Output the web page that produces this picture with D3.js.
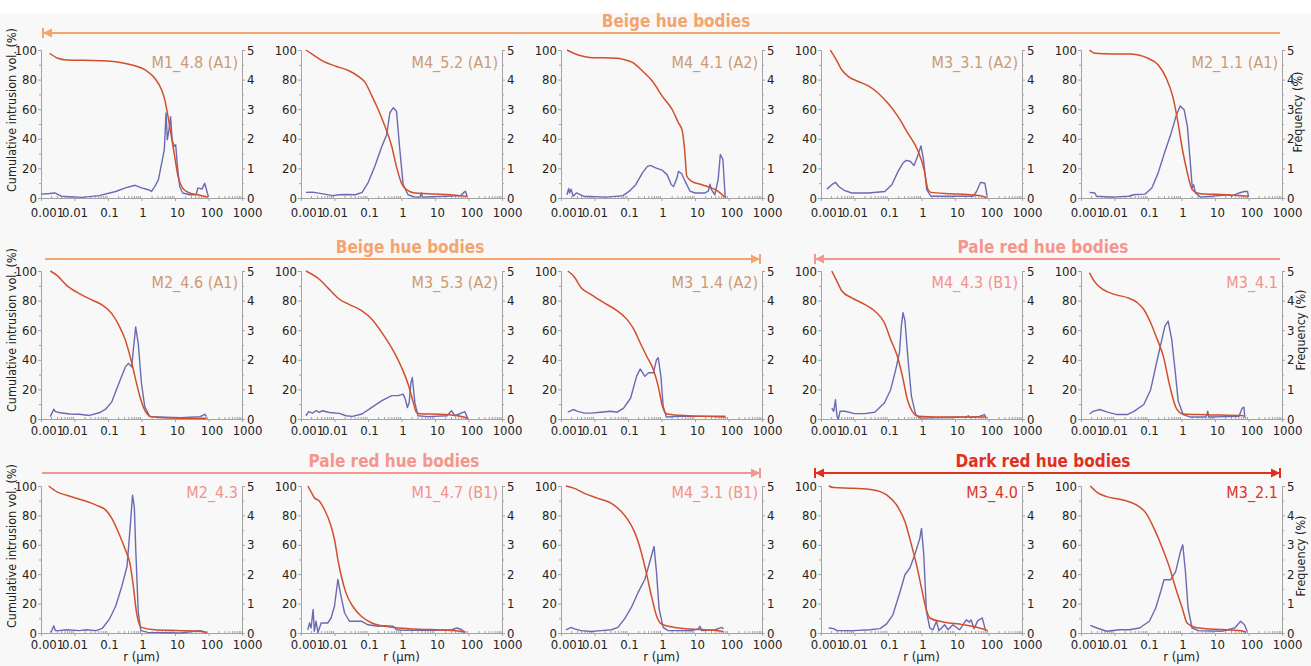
<!DOCTYPE html>
<html>
<head>
<meta charset="utf-8">
<script src="https://cdnjs.cloudflare.com/ajax/libs/d3/7.8.5/d3.min.js"></script>
<style>
  body { margin: 0; background: #f8f8f8; }
  svg { display: block; font-family: "DejaVu Sans Condensed", "DejaVu Sans", sans-serif; }
  .tick text { font-family: "Liberation Sans Narrow", "DejaVu Sans Condensed", sans-serif; }
</style>
</head>
<body>
<svg id="chart" width="1311" height="666"></svg>
<script>
// Axis ticks
const xTicks = [0.001, 0.01, 0.1, 1, 10, 100, 1000];
const xTickLabels = ["0.001", "0.01", "0.1", "1", "10", "100", "1000"];
const cumTicks = [0, 20, 40, 60, 80, 100];
const freqTicks = [0, 1, 2, 3, 4, 5];

// Sample names, one per panel (row by row)
const sampleNames = [
  "M1_4.8 (A1)", "M4_5.2 (A1)", "M4_4.1 (A2)", "M3_3.1 (A2)", "M2_1.1 (A1)",
  "M2_4.6 (A1)", "M3_5.3 (A2)", "M3_1.4 (A2)", "M4_4.3 (B1)", "M3_4.1",
  "M2_4.3", "M1_4.7 (B1)", "M4_3.1 (B1)", "M3_4.0", "M3_2.1"
];
const sampleHue = [
  "beige", "beige", "beige", "beige", "beige",
  "beige", "beige", "beige", "pale", "pale",
  "pale", "pale", "pale", "dark", "dark"
];
const groupTitles = ["Beige hue bodies", "Pale red hue bodies", "Dark red hue bodies"];

// Cumulative intrusion vol. (%) vs r (um), and frequency (%) vs r (um)
const cumM1_48 = [[0.0018,97.8],[0.0032,94.4],[0.0057,93.3],[0.055,92.8],[0.17,92.1],[0.52,89.9],[1.3,86.5],[2.5,80.9],[4.0,73],[5.0,66],[6.2,55],[7.8,41.6],[9.8,28],[12.3,14.6],[17,6.7],[27,3.4],[48,2.2],[94,0.7]];
const frqM1_48 = [[0.001,0.13],[0.0018,0.15],[0.0026,0.17],[0.004,0.06],[0.017,0.02],[0.054,0.08],[0.17,0.22],[0.33,0.34],[0.65,0.43],[1.0,0.34],[1.6,0.28],[2.0,0.22],[2.5,0.39],[3.2,0.62],[4.0,1.18],[4.8,1.63],[5.4,2.87],[5.9,1.97],[6.6,2.3],[7.4,2.75],[8.2,1.97],[9.4,1.74],[10.5,1.8],[11.8,1.07],[13.8,0.39],[17,0.17],[27,0.11],[43,0.11],[48,0.34],[64,0.3],[77,0.5],[90,0.22],[100,0.03]];

const cumM4_52 = [[0.0014,100],[0.0022,97],[0.0045,92.5],[0.011,89],[0.027,86],[0.053,82],[0.083,78],[0.13,69],[0.2,60],[0.32,48.5],[0.51,35],[0.71,21],[1.0,10],[1.4,5.6],[2.5,3.4],[6,2.9],[23,2.3],[91,1.1]];
const frqM4_52 = [[0.0014,0.19],[0.0022,0.2],[0.0045,0.14],[0.0088,0.08],[0.014,0.11],[0.022,0.12],[0.042,0.11],[0.067,0.19],[0.1,0.51],[0.16,1.07],[0.26,1.75],[0.36,2.14],[0.45,2.88],[0.57,3.05],[0.71,2.93],[0.89,1.64],[1.12,0.45],[1.57,0.11],[2.5,0.03],[3.6,0.03],[3.9,0.17],[4.2,0.03],[23,0.06],[58,0.08],[73,0.19],[81,0.23],[91,0.06]];

const cumM4_41 = [[0.0015,100],[0.0023,98],[0.0042,96],[0.0073,95],[0.044,94.4],[0.07,93.7],[0.14,91.4],[0.27,85.8],[0.53,79],[1.05,68.8],[2.05,60],[3.2,50.8],[4.1,46],[4.9,32.7],[5.7,14.7],[8,11.3],[16,9],[31,6.8],[49,4.5],[76,0.7]];
const frqM4_41 = [[0.0015,0.11],[0.0017,0.32],[0.0018,0.17],[0.002,0.3],[0.0023,0.06],[0.0029,0.17],[0.0047,0.06],[0.023,0.03],[0.07,0.08],[0.11,0.23],[0.17,0.45],[0.27,0.85],[0.38,1.07],[0.47,1.1],[0.67,1.02],[1.05,0.94],[1.47,0.79],[1.97,0.45],[2.3,0.39],[2.9,0.68],[3.2,0.9],[4.0,0.82],[5.1,0.56],[7.1,0.23],[10,0.17],[20,0.17],[25,0.23],[28,0.47],[31,0.28],[39,0.11],[49,0.62],[57,1.47],[68,1.3],[80,0]];

const cumM3_31 = [[0.0019,100],[0.0027,94.4],[0.0042,86.5],[0.0066,82],[0.013,78.7],[0.026,75.7],[0.051,70.8],[0.1,64],[0.2,55],[0.39,43.8],[0.76,32.6],[1.2,19],[1.57,5.6],[1.9,3.8],[7.3,2.9],[28,2.2],[70,1.1],[87,0]];
const frqM3_31 = [[0.0015,0.3],[0.0021,0.45],[0.0027,0.53],[0.0034,0.39],[0.0049,0.26],[0.0084,0.17],[0.026,0.17],[0.08,0.22],[0.13,0.45],[0.2,0.9],[0.28,1.18],[0.35,1.27],[0.46,1.24],[0.6,1.1],[0.76,1.4],[0.96,1.76],[1.15,1.29],[1.43,0.28],[1.9,0.06],[11.4,0.06],[35,0.06],[44,0.22],[58,0.53],[78,0.5],[91,0.06]];

const cumM2_11 = [[0.0018,100],[0.0026,97.8],[0.0087,97.3],[0.027,97.3],[0.052,96.6],[0.1,94.4],[0.2,90],[0.35,81],[0.55,68.5],[0.76,52.8],[1.07,32.6],[1.5,16.9],[2.1,5.6],[3.7,2.9],[22,2.2],[100,1.1]];
const frqM2_11 = [[0.0018,0.19],[0.0026,0.17],[0.0029,0.06],[0.0087,0.03],[0.027,0.06],[0.037,0.11],[0.081,0.13],[0.13,0.34],[0.2,0.84],[0.31,1.52],[0.49,2.19],[0.68,2.75],[0.91,3.11],[1.2,2.98],[1.5,2.42],[1.87,1.07],[2.1,0.34],[2.3,0.45],[2.6,0.17],[3.7,0.03],[27,0.11],[31,0.06],[53,0.17],[75,0.22],[94,0.22],[100,0.03]];

const cumM2_46 = [[0.0019,100],[0.003,97],[0.0058,90.3],[0.014,84.7],[0.035,80.2],[0.068,76.9],[0.13,71.2],[0.21,63.4],[0.33,53.3],[0.46,42],[0.64,28.5],[0.9,15],[1.25,6],[1.95,1.6],[4.8,0.9],[87,0.4]];
const frqM2_46 = [[0.0019,0.08],[0.0024,0.33],[0.0027,0.25],[0.0037,0.21],[0.0073,0.17],[0.014,0.16],[0.028,0.12],[0.055,0.21],[0.085,0.33],[0.13,0.58],[0.21,1.2],[0.33,1.76],[0.41,1.88],[0.51,1.76],[0.57,2.33],[0.67,3.11],[0.8,2.55],[1.0,1.2],[1.25,0.42],[1.75,0.08],[15,0.04],[56,0.08],[78,0.16],[87,0.08]];

const cumM3_53 = [[0.0014,100],[0.0035,94.4],[0.007,87.6],[0.014,80.9],[0.027,77.5],[0.066,73],[0.13,67.4],[0.26,58.4],[0.64,44],[1.0,35],[1.57,23.6],[2.2,12],[2.8,4.5],[3.5,3.6],[19,3.1],[58,1.8],[100,0.4]];
const frqM3_53 = [[0.0014,0.11],[0.0017,0.25],[0.0022,0.2],[0.0028,0.28],[0.0035,0.22],[0.0044,0.28],[0.007,0.22],[0.014,0.19],[0.022,0.11],[0.034,0.09],[0.066,0.17],[0.13,0.39],[0.26,0.62],[0.51,0.79],[0.8,0.79],[1.12,0.84],[1.3,0.67],[1.5,0.39],[1.7,0.56],[1.9,1.22],[2.1,1.4],[2.3,0.96],[2.5,0.56],[3.1,0.11],[6.1,0.08],[23,0.11],[31,0.28],[39,0.11],[78,0.25],[95,0]];

const cumM3_14 = [[0.0016,100],[0.0025,96],[0.004,88.7],[0.0078,84.2],[0.019,78.6],[0.048,73],[0.093,67.3],[0.15,60.5],[0.23,51.5],[0.36,42.4],[0.57,33.4],[0.8,22],[1.07,8.6],[1.4,3.6],[3.5,2.5],[21,1.8],[81,1.8]];
const frqM3_14 = [[0.0016,0.23],[0.0023,0.32],[0.0032,0.26],[0.005,0.2],[0.0078,0.2],[0.015,0.23],[0.03,0.26],[0.048,0.23],[0.074,0.37],[0.12,0.71],[0.18,1.44],[0.23,1.69],[0.32,1.44],[0.41,1.56],[0.57,1.56],[0.71,2.0],[0.8,2.07],[0.96,1.44],[1.12,0.43],[1.4,0.07],[3.5,0.09],[21,0.09],[81,0.07]];

const cumM4_43 = [[0.0021,100],[0.003,93],[0.0042,86.5],[0.0081,82],[0.02,77.4],[0.04,73],[0.078,65],[0.12,53.7],[0.19,42.4],[0.27,28.9],[0.38,13],[0.53,5.2],[0.83,1.8],[2.9,1.4],[85,1.4]];
const frqM4_43 = [[0.0021,0.37],[0.0024,0.26],[0.0027,0.65],[0.003,0.09],[0.0033,0],[0.0037,0.26],[0.0052,0.26],[0.01,0.18],[0.02,0.18],[0.04,0.23],[0.078,0.54],[0.12,0.99],[0.17,1.67],[0.22,2.24],[0.25,3.14],[0.28,3.59],[0.32,3.33],[0.4,1.97],[0.5,0.77],[0.67,0.15],[0.93,0.03],[22,0.07],[25,0.11],[28,0.05],[54,0.09],[76,0.15],[85,0.03]];

const cumM3_41 = [[0.0018,98.8],[0.0025,93],[0.0045,87.6],[0.01,84.2],[0.024,82],[0.048,78.6],[0.075,74],[0.12,65],[0.18,55],[0.29,42],[0.45,22],[0.71,7],[1.12,3.4],[5.4,2.9],[65,2.3],[73,1.8]];
const frqM3_41 = [[0.0018,0.17],[0.0023,0.26],[0.0036,0.32],[0.0062,0.23],[0.012,0.15],[0.024,0.15],[0.038,0.26],[0.075,0.49],[0.12,0.99],[0.18,1.9],[0.26,2.69],[0.32,3.14],[0.4,3.31],[0.51,2.69],[0.64,1.67],[0.8,0.6],[1.12,0.15],[1.76,0.07],[5.4,0.07],[6.1,0.26],[6.5,0.07],[52,0.09],[65,0.37],[73,0.4],[78,0.05]];

const cumM2_43 = [[0.0017,100],[0.003,96],[0.0058,93.7],[0.018,90.3],[0.044,87],[0.086,83.6],[0.13,78],[0.21,67.9],[0.33,56.6],[0.46,46.5],[0.57,31.9],[0.71,13.9],[1.0,3.8],[2.4,2.2],[15,1.6],[70,0.9],[87,0]];
const frqM2_43 = [[0.0019,0.02],[0.0021,0.08],[0.0024,0.25],[0.0027,0.08],[0.0034,0.08],[0.0058,0.11],[0.014,0.08],[0.022,0.11],[0.044,0.08],[0.068,0.16],[0.11,0.47],[0.17,0.92],[0.26,1.6],[0.37,2.27],[0.46,3.62],[0.54,4.69],[0.61,4.29],[0.68,2.72],[0.8,0.7],[0.96,0.08],[1.56,0.02],[15,0],[56,0.08],[78,0.04],[87,0]];

const cumM1_47 = [[0.0016,100],[0.0022,94.3],[0.0025,92],[0.0035,89.8],[0.005,84],[0.0079,72.7],[0.01,63.6],[0.0126,50],[0.016,38.6],[0.022,27.3],[0.035,18.2],[0.063,11.4],[0.13,6.8],[0.32,4.5],[0.79,3.4],[7.9,2.3],[63,1.1],[79,0.5]];
const frqM1_47 = [[0.0016,0.11],[0.0018,0.34],[0.002,0.17],[0.0021,0.4],[0.0023,0.8],[0.0025,0.06],[0.0028,0.4],[0.0032,0.02],[0.004,0.34],[0.0063,0.34],[0.0079,0.51],[0.01,0.91],[0.0126,1.82],[0.015,1.36],[0.02,0.68],[0.028,0.4],[0.063,0.4],[0.1,0.28],[0.2,0.23],[0.32,0.25],[0.56,0.23],[0.71,0.11],[1.26,0.09],[7.9,0.09],[32,0.11],[45,0.17],[63,0.11],[79,0.02]];

const cumM4_31 = [[0.0014,100],[0.0025,98.4],[0.005,95],[0.0126,91.6],[0.032,88.2],[0.063,82.6],[0.1,76.9],[0.16,68.3],[0.25,54.8],[0.35,41.2],[0.5,25.3],[0.71,11.8],[1.0,6.1],[2.5,3.8],[16,2.3],[50,1.6],[71,0.9]];
const frqM4_31 = [[0.0014,0.11],[0.002,0.19],[0.0025,0.14],[0.004,0.08],[0.0079,0.05],[0.016,0.08],[0.032,0.11],[0.05,0.19],[0.079,0.48],[0.126,0.87],[0.2,1.38],[0.32,1.83],[0.5,2.62],[0.6,2.94],[0.71,2.06],[0.85,0.81],[1.12,0.19],[1.58,0.08],[7.9,0.08],[12.6,0.14],[14,0.23],[16,0.08],[40,0.11],[63,0.19],[71,0.14]];

const cumM3_40 = [[0.0017,100],[0.0024,98.9],[0.0093,98.4],[0.037,97.3],[0.091,93.9],[0.18,87.1],[0.32,75.8],[0.5,60],[0.71,46.4],[1.0,30.5],[1.35,17],[1.77,10.2],[4.4,7.5],[17,5.7],[54,3.4],[95,1.6]];
const frqM3_40 = [[0.0017,0.17],[0.0024,0.15],[0.003,0.08],[0.0093,0.08],[0.029,0.11],[0.058,0.15],[0.091,0.31],[0.14,0.62],[0.23,1.41],[0.32,1.98],[0.45,2.21],[0.63,2.66],[0.89,3.22],[1.0,3.56],[1.17,2.66],[1.4,0.74],[1.77,0.17],[2.2,0.11],[2.8,0.4],[3.3,0.08],[4.9,0.28],[6.2,0.11],[8.7,0.28],[13.7,0.11],[21.7,0.45],[27,0.37],[30,0.45],[37,0.15],[48,0.42],[65,0.51],[82,0.08]];

const cumM3_21 = [[0.0019,100],[0.003,95.7],[0.0058,92.8],[0.018,90.5],[0.045,87.1],[0.088,81.4],[0.15,71.3],[0.27,57.7],[0.43,45.2],[0.67,30.5],[1.05,17],[1.47,6.8],[2.6,3.8],[16,2.3],[61,1.6],[85,0.5]];
const frqM3_21 = [[0.0019,0.26],[0.003,0.17],[0.0058,0.06],[0.014,0.11],[0.028,0.11],[0.056,0.17],[0.11,0.4],[0.17,0.85],[0.24,1.41],[0.3,1.81],[0.47,1.81],[0.67,2.09],[0.93,2.77],[1.09,3.0],[1.31,2.09],[1.57,0.85],[2.06,0.17],[3.2,0.08],[16,0.06],[39,0.17],[58,0.4],[76,0.28],[91,0.06]];

const cumSeries = [cumM1_48, cumM4_52, cumM4_41, cumM3_31, cumM2_11,
                   cumM2_46, cumM3_53, cumM3_14, cumM4_43, cumM3_41,
                   cumM2_43, cumM1_47, cumM4_31, cumM3_40, cumM3_21];
const frqSeries = [frqM1_48, frqM4_52, frqM4_41, frqM3_31, frqM2_11,
                   frqM2_46, frqM3_53, frqM3_14, frqM4_43, frqM3_41,
                   frqM2_43, frqM1_47, frqM4_31, frqM3_40, frqM3_21];

//==========================================
// Layout and styles
//==========================================
const W = 1311, H = 666;
const colLeft = [41, 301, 561, 821, 1081];
const plotW = 201;
const rowTop = [50, 271, 486];
const rowBottom = [198, 419, 633];
const xLabelPad = [7, 4, 4];
const xLabelShift = [6, 0, 1, 1, 2, 3, 5];
const nameOffset = [18, 17, 12];
const cumLabelY = [110, 330, 546];
const freqLabelY = [112, 330, 556];
const freqLabelX = [1298, 1301, 1301];

const axisColor = "#a3a3a3";
const textColor = "#222";
const cumColor = "#d24f2c";
const frqColor = "#6a6ab3";
const hueLine = { beige: "#f4a46e", pale: "#f3968e", dark: "#e0311f" };
const hueName = { beige: "#cc9a72", pale: "#f2928a", dark: "#e0311f" };

// header bars: row line with title and optional end caps
const headers = [
  { title: groupTitles[0], hue: "beige", y: 33,  x1: 43,  x2: 1280, tx: 676,  capL: true,  capR: false },
  { title: groupTitles[0], hue: "beige", y: 259, x1: 45,  x2: 760,  tx: 410,  capL: false, capR: true },
  { title: groupTitles[1], hue: "pale",  y: 259, x1: 815, x2: 1280, tx: 1043, capL: true,  capR: false },
  { title: groupTitles[1], hue: "pale",  y: 473, x1: 42,  x2: 760,  tx: 394,  capL: false, capR: true },
  { title: groupTitles[2], hue: "dark",  y: 473, x1: 815, x2: 1280, tx: 1043, capL: true,  capR: true }
];

const svg = d3.select("#chart");
svg.append("rect").attr("width", W).attr("height", H).attr("fill", "#f8f8f8");
svg.append("rect").attr("width", W).attr("height", 13).attr("fill", "#ffffff");

//==========================================
// Header bars
//==========================================
function drawCap(g, x, y, dir, color) {
  // dir -1: arrow points left, +1: arrow points right
  g.append("line")
    .attr("x1", x).attr("x2", x).attr("y1", y - 5).attr("y2", y + 5)
    .attr("stroke", color).attr("stroke-width", 2);
  g.append("path")
    .attr("d", `M${x},${y}L${x - dir * 9},${y - 4.5}L${x - dir * 9},${y + 4.5}Z`)
    .attr("fill", color);
}

headers.forEach(h => {
  const g = svg.append("g");
  const color = hueLine[h.hue];
  g.append("line")
    .attr("x1", h.x1).attr("x2", h.x2).attr("y1", h.y).attr("y2", h.y)
    .attr("stroke", color).attr("stroke-width", 2.2);
  if (h.capL) drawCap(g, h.x1, h.y, -1, color);
  if (h.capR) drawCap(g, h.x2, h.y, 1, color);
  g.append("text")
    .attr("x", h.tx).attr("y", h.y - 6)
    .attr("text-anchor", "middle")
    .attr("font-size", 17).attr("font-weight", "bold")
    .attr("fill", color)
    .text(h.title);
});

//==========================================
// Panels
//==========================================
function styleAxis(g) {
  g.attr("font-family", null).attr("font-size", null);
  g.select(".domain").attr("stroke", axisColor);
  g.selectAll(".tick line").attr("stroke", axisColor);
  g.selectAll(".tick text").attr("fill", textColor).attr("font-size", 13);
}

const minorX = [];
for (let e = -3; e < 3; e++) {
  for (let m = 2; m <= 9; m++) minorX.push(m * Math.pow(10, e));
}
const cumMinor = [10, 30, 50, 70, 90];
const freqMinor = [0.5, 1.5, 2.5, 3.5, 4.5];

sampleNames.forEach((name, i) => {
  const row = Math.floor(i / 5), col = i % 5;
  const L = colLeft[col], R = L + plotW, T = rowTop[row], B = rowBottom[row];

  const x = d3.scaleLog().domain([0.001, 1000]).range([L, R]);
  const yCum = d3.scaleLinear().domain([0, 100]).range([B, T]);
  const yFrq = d3.scaleLinear().domain([0, 5]).range([B, T]);

  const g = svg.append("g");

  // bottom axis
  g.append("g").attr("transform", `translate(0,${B})`)
    .call(d3.axisBottom(x).tickValues(minorX).tickSize(-2).tickFormat("").tickSizeOuter(0))
    .call(styleAxis);
  g.append("g").attr("transform", `translate(0,${B})`)
    .call(d3.axisBottom(x).tickValues(xTicks).tickSize(3).tickPadding(xLabelPad[row])
      .tickFormat((d, k) => xTickLabels[k]).tickSizeOuter(0))
    .call(styleAxis)
    .call(a => a.selectAll(".tick text").attr("dx", (d, k) => xLabelShift[k]));

  // left axis
  g.append("g").attr("transform", `translate(${L},0)`)
    .call(d3.axisLeft(yCum).tickValues(cumMinor).tickSize(2).tickFormat("").tickSizeOuter(0))
    .call(styleAxis);
  g.append("g").attr("transform", `translate(${L},0)`)
    .call(d3.axisLeft(yCum).tickValues(cumTicks).tickSize(3).tickPadding(1).tickSizeOuter(0))
    .call(styleAxis);

  // right axis
  g.append("g").attr("transform", `translate(${R},0)`)
    .call(d3.axisRight(yFrq).tickValues(freqMinor).tickSize(2).tickFormat("").tickSizeOuter(0))
    .call(styleAxis);
  g.append("g").attr("transform", `translate(${R},0)`)
    .call(d3.axisRight(yFrq).tickValues(freqTicks).tickSize(3).tickPadding(2)
      .tickFormat(d3.format("d")).tickSizeOuter(0))
    .call(styleAxis);

  // curves
  const frqLine = d3.line().x(d => x(d[0])).y(d => yFrq(d[1]));
  const cumLine = d3.line().x(d => x(d[0])).y(d => yCum(d[1])).curve(d3.curveMonotoneX);

  g.append("path").datum(frqSeries[i])
    .attr("d", frqLine)
    .attr("fill", "none").attr("stroke", frqColor).attr("stroke-width", 1.4)
    .attr("stroke-linejoin", "round");
  g.append("path").datum(cumSeries[i])
    .attr("d", cumLine)
    .attr("fill", "none").attr("stroke", cumColor).attr("stroke-width", 1.5)
    .attr("stroke-linejoin", "round");

  // sample name
  g.append("text")
    .attr("x", R - 4).attr("y", T + nameOffset[row])
    .attr("text-anchor", "end")
    .attr("font-size", 16)
    .attr("fill", hueName[sampleHue[i]])
    .text(name);

  // axis titles
  if (col === 0) {
    g.append("text")
      .attr("transform", `translate(12,${cumLabelY[row]}) rotate(-90)`)
      .attr("text-anchor", "middle").attr("dy", "0.35em")
      .attr("font-size", 12.5).attr("fill", textColor)
      .text("Cumulative intrusion vol. (%)");
  }
  if (col === 4) {
    g.append("text")
      .attr("transform", `translate(${freqLabelX[row]},${freqLabelY[row]}) rotate(-90)`)
      .attr("text-anchor", "middle").attr("dy", "0.35em")
      .attr("font-size", 12.5).attr("fill", textColor)
      .text("Frequency (%)");
  }
  if (row === 2) {
    g.append("text")
      .attr("x", (L + R) / 2).attr("y", 661)
      .attr("text-anchor", "middle")
      .attr("font-size", 13).attr("fill", textColor)
      .text("r (μm)");
  }
});
</script>
</body>
</html>
